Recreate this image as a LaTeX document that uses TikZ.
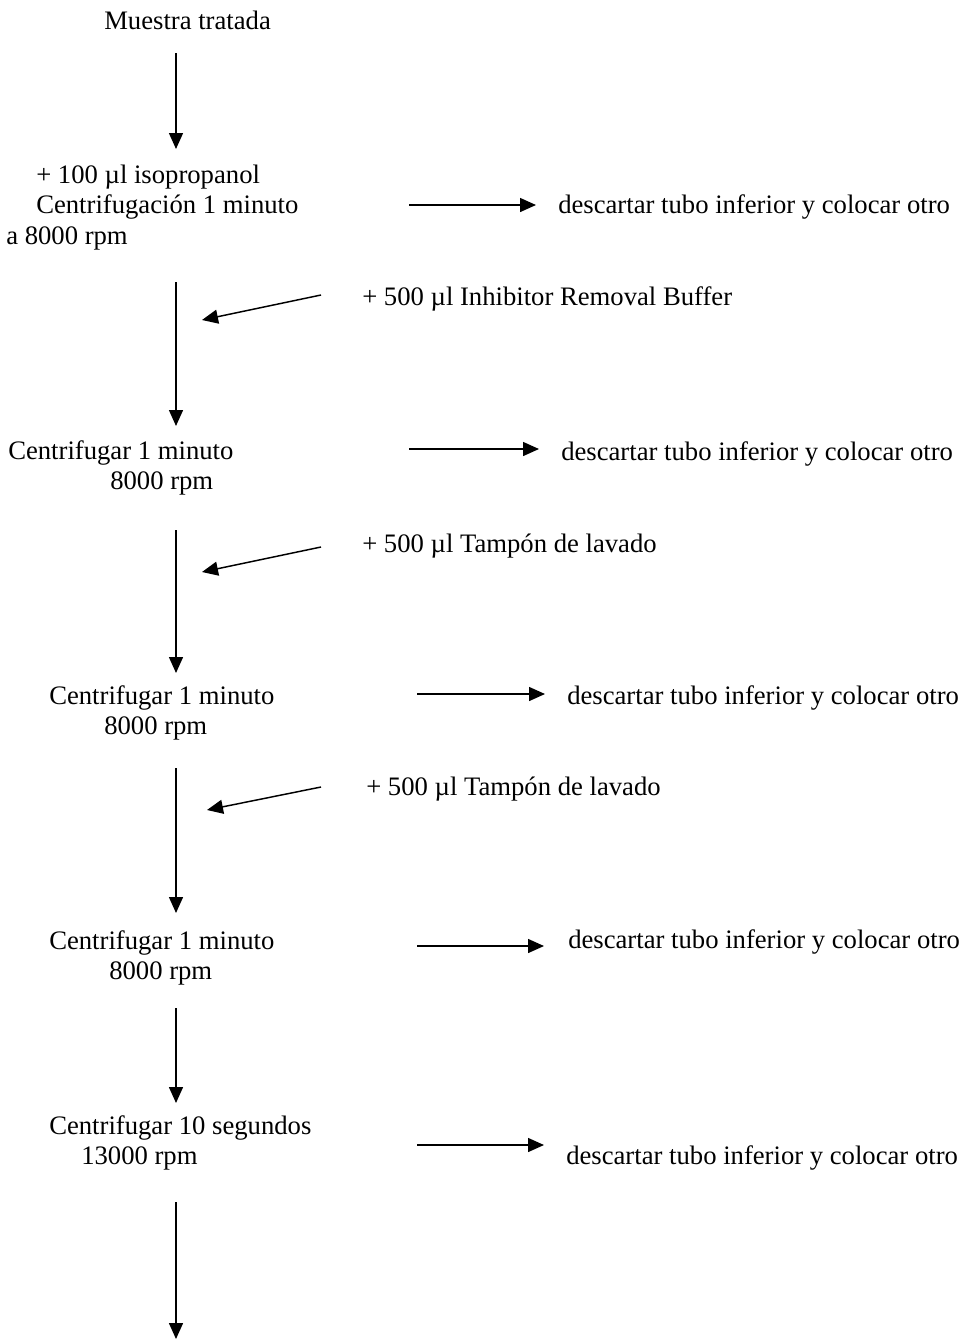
\documentclass[tikz,border=0pt]{standalone}
\usepackage{fontspec}
\setmainfont{Liberation Serif}
\usetikzlibrary{arrows.meta}
\tikzset{
  paso/.style={anchor=base west, inner sep=0pt, font=\fontsize{20}{24}\selectfont},
  flecha/.style={-{Triangle[length=12pt,width=10.5pt]}, line width=1.1pt},
}

\begin{document}
\begin{tikzpicture}[x=0.75pt,y=-0.75pt]
\useasboundingbox (0,0) rectangle (962,1339);

% Pasos
\node[paso] (muestra) at (104,29) {Muestra tratada};
\node[paso] (iso) at (36,183) {+ 100 µl isopropanol};
\node[paso] (cent1) at (36,213) {Centrifugación 1 minuto};
\node[paso] (rpm1) at (6,244) {a 8000 rpm};
\node[paso] (cent2) at (8,459) {Centrifugar 1 minuto};
\node[paso] (rpm2) at (110,489) {8000 rpm};
\node[paso] (cent3) at (49,704) {Centrifugar 1 minuto};
\node[paso] (rpm3) at (104,734) {8000 rpm};
\node[paso] (cent4) at (49,949) {Centrifugar 1 minuto};
\node[paso] (rpm4) at (109,979) {8000 rpm};
\node[paso] (cent5) at (49,1134) {Centrifugar 10 segundos};
\node[paso] (rpm5) at (81,1164) {13000 rpm};

% Reactivos
\node[paso] (buffer) at (362,305) {+ 500 µl Inhibitor Removal Buffer};
\node[paso] (lavado1) at (362,552) {+ 500 µl Tampón de lavado};
\node[paso] (lavado2) at (366,795) {+ 500 µl Tampón de lavado};

% Descartes
\node[paso] (desc1) at (558,213) {descartar tubo inferior y colocar otro};
\node[paso] (desc2) at (561,460) {descartar tubo inferior y colocar otro};
\node[paso] (desc3) at (567,704) {descartar tubo inferior y colocar otro};
\node[paso] (desc4) at (568,948) {descartar tubo inferior y colocar otro};
\node[paso] (desc5) at (566,1164) {descartar tubo inferior y colocar otro};

% Flechas verticales
\coordinate (v1a) at (176,53);   \coordinate (v1b) at (176,149);
\coordinate (v2a) at (176,282);  \coordinate (v2b) at (176,426);
\coordinate (v3a) at (176,530);  \coordinate (v3b) at (176,673);
\coordinate (v4a) at (176,768);  \coordinate (v4b) at (176,913);
\coordinate (v5a) at (176,1008); \coordinate (v5b) at (176,1103);
\coordinate (v6a) at (176,1202); \coordinate (v6b) at (176,1339);
\foreach \i in {1,...,6}
  \draw[flecha] (v\i a) -- (v\i b);

% Flechas de reactivos
\coordinate (r1) at (321,295); \coordinate (r1b) at (202,320);
\coordinate (r2) at (321,547); \coordinate (r2b) at (202,572);
\coordinate (r3) at (321,787); \coordinate (r3b) at (207,810);
\draw[flecha] (r1) -- (r1b);
\draw[flecha] (r2) -- (r2b);
\draw[flecha] (r3) -- (r3b);

% Flechas de descarte
\coordinate (h1) at (409,205);  \coordinate (h1b) at (536,205);
\coordinate (h2) at (409,449);  \coordinate (h2b) at (539,449);
\coordinate (h3) at (417,694);  \coordinate (h3b) at (545,694);
\coordinate (h4) at (417,946);  \coordinate (h4b) at (544,946);
\coordinate (h5) at (417,1145); \coordinate (h5b) at (544,1145);
\foreach \i in {1,...,5}
  \draw[flecha] (h\i) -- (h\i b);
\end{tikzpicture}
\end{document}
